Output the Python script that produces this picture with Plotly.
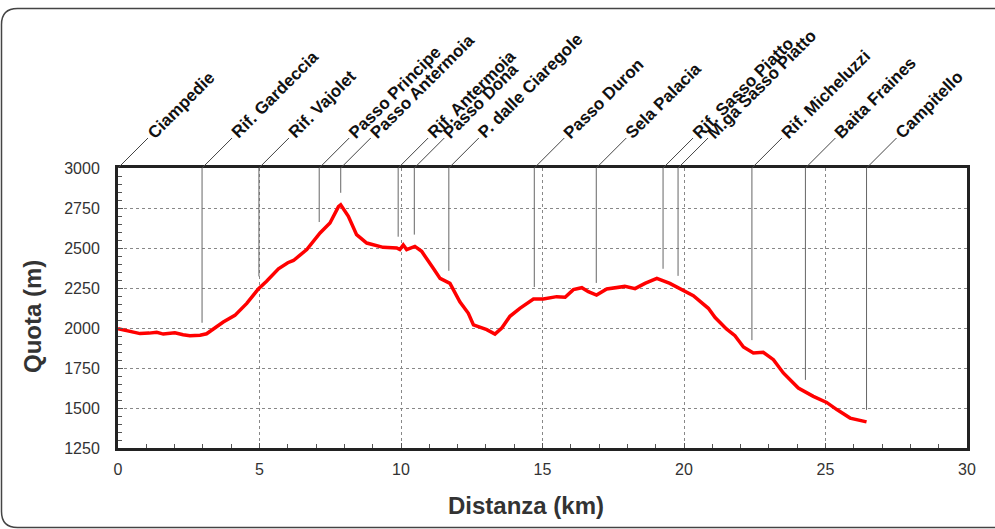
import numpy as np
import plotly.graph_objects as go

# ---- data ----
dist_km = [0, 0.4, 0.78, 1.1, 1.37, 1.6, 1.8, 2.01, 2.3, 2.54, 2.9, 3.13, 3.37, 3.72, 4.13,
           4.55, 4.96, 5.25, 5.67, 6.0, 6.2, 6.67, 7.14, 7.49, 7.79, 7.87, 8.14, 8.43, 8.79,
           9.37, 9.85, 9.96, 10.08, 10.2, 10.49, 10.73, 11.14, 11.38, 11.73, 12.08, 12.38,
           12.56, 13.03, 13.32, 13.56, 13.85, 14.2, 14.68, 15.03, 15.5, 15.8, 16.09, 16.39,
           16.62, 16.91, 17.27, 17.91, 18.27, 18.62, 19.04, 19.5, 19.86, 20.33, 20.86, 21.1,
           21.5, 21.8, 22.1, 22.45, 22.8, 23.16, 23.51, 24.04, 24.57, 25.04, 25.4, 25.87, 26.45]
quota_m = [1995, 1980, 1965, 1968, 1973, 1962, 1968, 1970, 1958, 1952, 1955, 1964, 1994, 2037,
           2079, 2154, 2244, 2292, 2370, 2408, 2422, 2490, 2594, 2656, 2758, 2770, 2698, 2583,
           2531, 2504, 2500, 2490, 2519, 2490, 2510, 2479, 2373, 2310, 2279, 2164, 2092, 2019,
           1990, 1962, 2000, 2073, 2123, 2181, 2181, 2196, 2192, 2240, 2252, 2227, 2206, 2244,
           2260, 2246, 2279, 2310, 2279, 2244, 2202, 2123, 2065, 1994, 1952, 1881, 1844, 1848,
           1802, 1719, 1625, 1573, 1535, 1490, 1437, 1413]

place_names = ["Ciampedie", "Rif. Gardeccia", "Rif. Vajolet", "Passo Principe", "Passo Antermoia",
               "Rif. Antermoia", "Passo Dona", "P. dalle Ciaregole", "Passo Duron", "Sela Palacia",
               "Rif. Sasso Piatto", "M.ga Sasso Piatto", "Rif. Micheluzzi", "Baita Fraines",
               "Campitello"]
place_km = [0, 2.97, 4.98, 7.11, 7.87, 9.9, 10.47, 11.69, 14.71, 16.9, 19.26, 19.79, 22.4,
            24.29, 26.45]

x_ticks = [0, 5, 10, 15, 20, 25, 30]
y_ticks = [1250, 1500, 1750, 2000, 2250, 2500, 2750, 3000]

# ---- layout geometry ----
W, H = 995, 529
L, R, T, B = 118, 28, 168, 81
PW, PH = W - L - R, H - T - B


def px(xp):
    return (xp - L) / PW


def py(yp):
    return (H - B - yp) / PH


FONT = "Liberation Sans, Arial, sans-serif"

fig = go.Figure()
fig.add_trace(go.Scatter(x=dist_km, y=quota_m, mode="lines",
                         line=dict(color="#ff0000", width=3.5), hoverinfo="skip",
                         showlegend=False))

shapes = []
annotations = []
top = y_ticks[-1]
for name, km in zip(place_names, place_km):
    y_end = float(np.interp(km, dist_km, quota_m)) + 75
    if km > 0:
        shapes.append(dict(type="line", xref="x", yref="y", x0=km, x1=km, y0=top, y1=y_end,
                           line=dict(color="#666666", width=1)))
    xp0 = L + km / x_ticks[-1] * PW
    shapes.append(dict(type="line", xref="paper", yref="paper",
                       x0=px(xp0), y0=1, x1=px(xp0 + 30), y1=py(T - 30),
                       line=dict(color="#444444", width=1)))
    annotations.append(dict(x=km, y=top, xref="x", yref="y", text=name, showarrow=False,
                            textangle=-45, xanchor="left", yanchor="bottom",
                            xshift=23, yshift=23,
                            font=dict(family=FONT, size=17, color="#111111", weight="bold")))

# outer rounded frame
r = 16
x0, x1, y0, y1 = 1.5, 1010, 8.5, 527.5
path = (f"M {px(x1)},{py(y0)} L {px(x0 + r)},{py(y0)} Q {px(x0)},{py(y0)} {px(x0)},{py(y0 + r)} "
        f"L {px(x0)},{py(y1 - r)} Q {px(x0)},{py(y1)} {px(x0 + r)},{py(y1)} L {px(x1)},{py(y1)}")
shapes.append(dict(type="path", xref="paper", yref="paper", path=path,
                   line=dict(color="#444444", width=1.5), layer="below"))

annotations.append(dict(x=px(32), y=py(317), xref="paper", yref="paper", text="Quota (m)",
                        showarrow=False, textangle=-90, xanchor="center", yanchor="middle",
                        font=dict(family=FONT, size=24, color="#333333", weight="bold")))
annotations.append(dict(x=px(526), y=py(505), xref="paper", yref="paper", text="Distanza (km)",
                        showarrow=False, xanchor="center", yanchor="middle",
                        font=dict(family=FONT, size=24, color="#333333", weight="bold")))

fig.update_layout(
    width=W, height=H, autosize=False,
    margin=dict(l=L, r=R, t=T, b=B, pad=0),
    paper_bgcolor="white", plot_bgcolor="white",
    shapes=shapes, annotations=annotations,
    xaxis=dict(range=[x_ticks[0], x_ticks[-1]], tickvals=x_ticks, ticks="inside", ticklen=5,
               tickcolor="#555555", showline=True, linewidth=3, linecolor="#222222",
               mirror=True, showgrid=True, gridcolor="#888888", griddash="dot",
               gridwidth=1, zeroline=False, ticklabelstandoff=5,
               minor=dict(dtick=1, ticks="inside", ticklen=4, tickcolor="#555555",
                          showgrid=False),
               tickfont=dict(family=FONT, size=16, color="#333333")),
    yaxis=dict(range=[y_ticks[0], y_ticks[-1]], tickvals=y_ticks, ticks="inside", ticklen=5,
               tickcolor="#555555", showline=True, linewidth=3, linecolor="#222222",
               mirror=True, showgrid=True, gridcolor="#888888", griddash="dot",
               gridwidth=1, zeroline=False, ticklabelstandoff=12,
               minor=dict(dtick=50, ticks="inside", ticklen=4, tickcolor="#555555",
                          showgrid=False),
               tickfont=dict(family=FONT, size=16, color="#333333")),
)

fig.write_html("out.html", config={"displayModeBar": False},
               post_script="document.body.style.margin='0';")
